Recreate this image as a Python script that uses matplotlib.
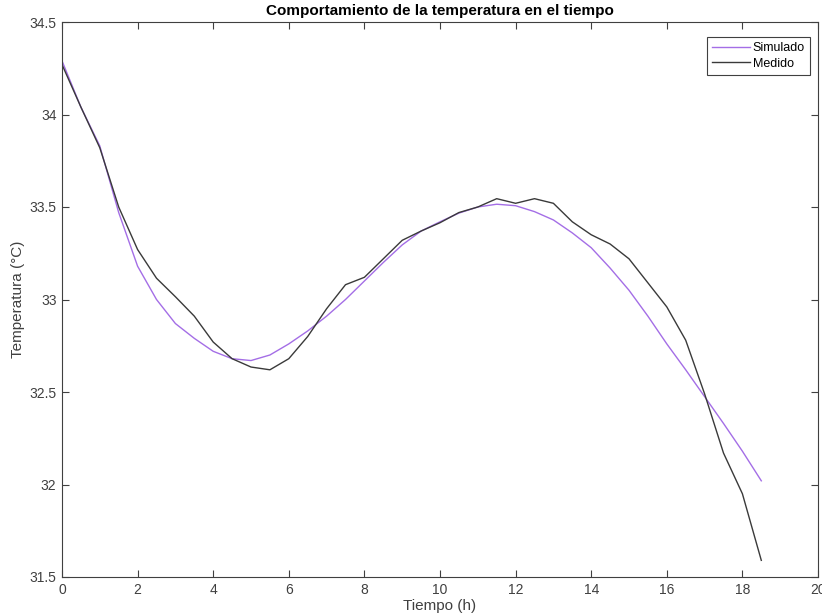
import numpy as np
import matplotlib.pyplot as plt

plt.rcParams['font.family'] = ['Liberation Sans', 'DejaVu Sans']

tiempo = np.arange(0, 18.51, 0.5)

simulado = [34.29, 34.04, 33.83, 33.47, 33.18, 33.00, 32.87, 32.79, 32.72, 32.68,
            32.67, 32.70, 32.76, 32.83, 32.91, 33.00, 33.10, 33.20, 33.295, 33.37,
            33.42, 33.467, 33.50, 33.515, 33.507, 33.475, 33.43, 33.36, 33.28, 33.17,
            33.05, 32.91, 32.76, 32.62, 32.475, 32.33, 32.18, 32.02]

medido = [34.27, 34.04, 33.82, 33.50, 33.27, 33.115, 33.015, 32.91, 32.77, 32.68,
          32.635, 32.62, 32.68, 32.80, 32.95, 33.08, 33.12, 33.22, 33.32, 33.37,
          33.415, 33.47, 33.50, 33.545, 33.52, 33.545, 33.52, 33.42, 33.35, 33.30,
          33.22, 33.09, 32.96, 32.78, 32.49, 32.17, 31.95, 31.59]

fig = plt.figure(figsize=(8.22, 6.14), dpi=100)
ax = fig.add_axes([62/822, 1 - 577/614, 756/822, 555/614])

ax.plot(tiempo, simulado, color='#a46ee6', lw=1.0, label='Simulado')
ax.plot(tiempo, medido, color='#3a3a3a', lw=1.0, label='Medido')

ax.set_xlim(0, 20)
ax.set_ylim(31.5, 34.5)
ax.set_xticks(np.arange(0, 21, 2))
ax.set_yticks(np.arange(31.5, 34.51, 0.5))
ax.set_yticklabels(['31.5', '32', '32.5', '33', '33.5', '34', '34.5'])

ax.tick_params(direction='in', top=True, right=True, length=5, width=0.8,
               labelsize=10, colors='#404040', pad=4)
for s in ax.spines.values():
    s.set_color('#404040')
    s.set_linewidth(0.8)

ax.set_title('Comportamiento de la temperatura en el tiempo', fontsize=11,
             fontweight='bold', color='black', pad=5)
ax.set_xlabel('Tiempo (h)', fontsize=11, color='#404040', labelpad=2)
ax.set_ylabel('Temperatura (°C)', fontsize=11, color='#404040', labelpad=3)

leg = ax.legend(loc='upper right', bbox_to_anchor=(0.9894, 0.973), borderaxespad=0,
                fontsize=9, fancybox=False, framealpha=1, edgecolor='#404040',
                handlelength=3.0, handletextpad=0.25, borderpad=0.4, labelspacing=0.3)
leg.get_frame().set_linewidth(0.8)

fig.savefig('out.png', dpi=100)
